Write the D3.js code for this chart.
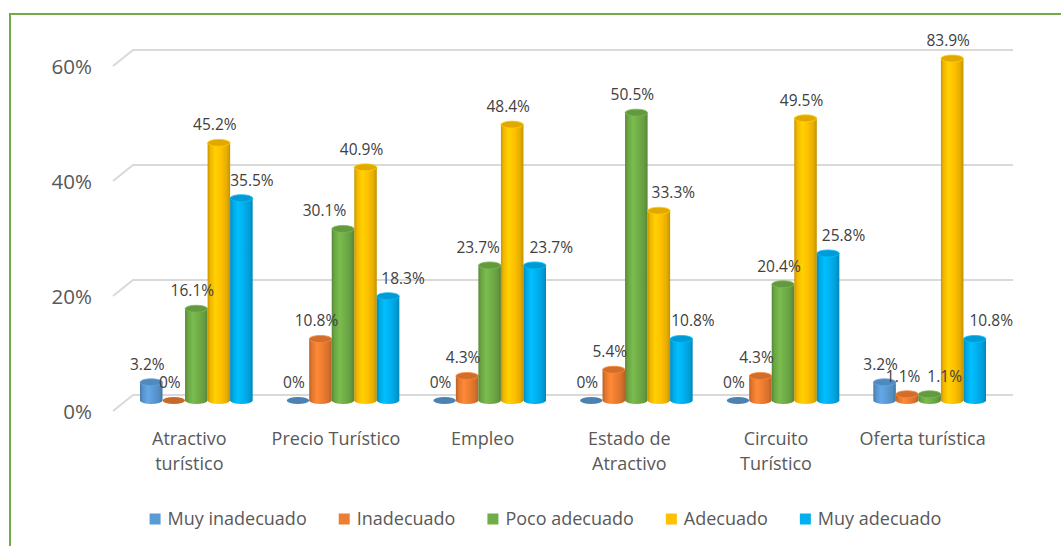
<!DOCTYPE html>
<html>
<head>
<meta charset="utf-8">
<script src="https://cdn.jsdelivr.net/npm/d3@7"></script>
<style>
  html, body { margin: 0; padding: 0; background: #fff; }
  svg { display: block; }
  text { font-family: "Open Sans", "Noto Sans", sans-serif; }
</style>
</head>
<body>
<svg id="chart" width="1061" height="546"></svg>
<script>
// ---------- data ----------
const categories = ["Atractivo turístico", "Precio Turístico", "Empleo", "Estado de Atractivo", "Circuito Turístico", "Oferta turística"];
const seriesNames = ["Muy inadecuado", "Inadecuado", "Poco adecuado", "Adecuado", "Muy adecuado"];
const muyInadecuado = [3.2, 0, 0, 0, 0, 3.2];
const inadecuado    = [0, 10.8, 4.3, 5.4, 4.3, 1.1];
const pocoAdecuado  = [16.1, 30.1, 23.7, 50.5, 20.4, 1.1];
const adecuado      = [45.2, 40.9, 48.4, 33.3, 49.5, 83.9];
const muyAdecuado   = [35.5, 18.3, 23.7, 10.8, 25.8, 10.8];
const yTicks = [0, 20, 40, 60];
const seriesValues = [muyInadecuado, inadecuado, pocoAdecuado, adecuado, muyAdecuado];

// ---------- style ----------
const colors = ["#5B9BD5", "#ED7D31", "#70AD47", "#FFC000", "#00B0F0"];
// horizontal nudges for data labels that Excel moved aside (category index, series index, dx)
const labelNudges = [[0,4,14.5],[1,2,-14.5],[1,4,19],[2,2,-7.5],[2,4,20.5],[3,3,18.5],[3,4,15.5],[4,4,19.5],[5,2,19],[5,4,20.5]];

const svg = d3.select("#chart");

// chart border (green, cropped on right/bottom)
svg.append("rect").attr("x", 10).attr("y", 14).attr("width", 1100).attr("height", 600)
  .attr("fill", "none").attr("stroke", "#70AD47").attr("stroke-width", 2);

// 3D-ish geometry
const depthDx = 20, depthDy = -16;
const yFront = d3.scaleLinear().domain([0, 60]).range([411, 66]);
const yBar = d3.scaleLinear().domain([0, 60]).range([400.5, 58.5]).clamp(true);
const xFront0 = 113, xFront1 = 993;

const x0 = d3.scaleBand().domain(categories).range([xFront0 + depthDx/2, xFront1 + depthDx/2]);
const groupPad = 17;
const x1 = d3.scaleBand().domain(seriesNames).range([groupPad, x0.bandwidth() - groupPad]);
const bw = x1.bandwidth();
const ry = 3.5;

// gridlines (back wall + left side diagonal)
const grid = svg.append("g");
yTicks.forEach(t => {
  const yf = yFront(t), yb = yf + depthDy;
  grid.append("path")
    .attr("d", `M${xFront0},${yf}L${xFront0 + depthDx},${yb}L${xFront1 + depthDx},${yb}`)
    .attr("fill", "none").attr("stroke", "#D9D9D9").attr("stroke-width", 2);
});

// y axis labels
const yAxis = d3.axisLeft(yFront).tickValues(yTicks).tickFormat(d => d + "%").tickSize(0).tickPadding(0);
const yAx = svg.append("g").attr("transform", "translate(92,0)").call(yAxis);
yAx.select(".domain").remove();
yAx.selectAll("text").attr("fill", "#595959").style("font-size", "20.5px")
  .style("font-family", "'Open Sans', sans-serif").attr("dy", "0.35em");

// gradients
const defs = svg.append("defs");
colors.forEach((c, i) => {
  const g = defs.append("linearGradient").attr("id", "grad" + i).attr("x1", 0).attr("x2", 1).attr("y1", 0).attr("y2", 0);
  const base = d3.color(c);
  [[0, base.darker(0.7)], [0.12, base.darker(0.15)], [0.35, base.brighter(0.25)], [0.6, base], [0.85, base.darker(0.3)], [1, base.darker(0.75)]]
    .forEach(([o, col]) => g.append("stop").attr("offset", o).attr("stop-color", col.formatHex()));
});

// bars
const bars = svg.append("g");
const labels = svg.append("g");
categories.forEach((cat, ci) => {
  seriesNames.forEach((s, si) => {
    const v = seriesValues[si][ci];
    const cx = x0(cat) + x1(s) + bw / 2;
    const xl = x0(cat) + x1(s), xr = xl + bw;
    const base = yBar(0), top = yBar(v);
    const col = d3.color(colors[si]);
    if (v === 0) {
      bars.append("ellipse").attr("cx", cx).attr("cy", base).attr("rx", bw / 2).attr("ry", ry)
        .attr("fill", col.darker(0.5).formatHex());
    } else {
      bars.append("path")
        .attr("d", `M${xl},${top}L${xl},${base}A${bw/2},${ry} 0 0 0 ${xr},${base}L${xr},${top}Z`)
        .attr("fill", `url(#grad${si})`);
      bars.append("ellipse").attr("cx", cx).attr("cy", top).attr("rx", bw / 2).attr("ry", ry)
        .attr("fill", col.darker(0.35).formatHex())
        .attr("stroke", col.brighter(0.2).formatHex()).attr("stroke-width", 0.8);
    }
    const nudge = labelNudges.find(n => n[0] === ci && n[1] === si);
    labels.append("text")
      .attr("x", cx - 4 + (nudge ? nudge[2] : 0))
      .attr("y", top - 12.5)
      .attr("text-anchor", "middle")
      .attr("fill", "#404040").style("font-size", "15.5px")
      .text(d3.format(".1~f")(v) + "%");
  });
});

// category labels
const catG = svg.append("g");
categories.forEach(cat => {
  const cx = x0(cat) + x0.bandwidth() / 2 - 7;
  const t = catG.append("text").attr("text-anchor", "middle").attr("fill", "#595959").style("font-size", "18px");
  const words = cat.split(" ");
  let lines = [], cur = [];
  const probe = catG.append("text").style("font-size", "18px");
  words.forEach(w => {
    const trial = cur.concat([w]).join(" ");
    probe.text(trial);
    if (probe.node().getComputedTextLength() > 140 && cur.length) { lines.push(cur.join(" ")); cur = [w]; }
    else cur.push(w);
  });
  lines.push(cur.join(" "));
  probe.remove();
  lines.forEach((ln, i) => t.append("tspan").attr("x", cx).attr("y", 444.5 + i * 25).text(ln));
});

// legend
const leg = svg.append("g");
const sq = 11, gapTxt = 7, gapItem = 32;
const items = seriesNames.map((s, i) => {
  const g = leg.append("g");
  g.append("rect").attr("width", sq).attr("height", sq).attr("y", -sq / 2).attr("fill", colors[i]);
  const tx = g.append("text").attr("x", sq + gapTxt).attr("dy", "0.35em").attr("fill", "#595959")
    .style("font-size", "18px").text(s);
  return { g, w: sq + gapTxt + tx.node().getComputedTextLength() };
});
const total = d3.sum(items, d => d.w) + gapItem * (items.length - 1);
let lx = 545.5 - total / 2;
items.forEach(it => { it.g.attr("transform", `translate(${lx},519)`); lx += it.w + gapItem; });
</script>
</body>
</html>
